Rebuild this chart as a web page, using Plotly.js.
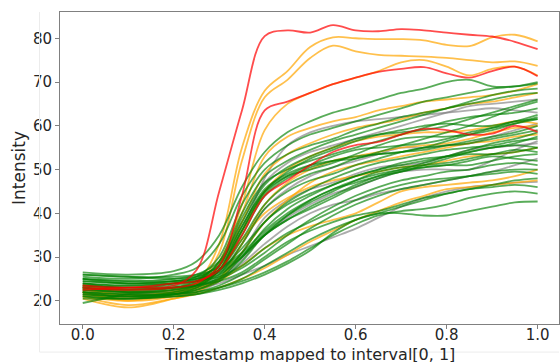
<!DOCTYPE html>
<html>
<head>
<meta charset="utf-8">
<script src="https://cdn.plot.ly/plotly-3.0.1.min.js"></script>
<style>html,body{margin:0;padding:0;background:#fff;}#chart{width:560px;height:362px;}</style>
</head>
<body>
<div id="chart"></div>
<script>
// Shared timestamps (mapped to [0,1])
const T = [0, 0.1, 0.2, 0.25, 0.3, 0.35, 0.4, 0.45, 0.5, 0.55, 0.6, 0.65, 0.7, 0.75, 0.8, 0.85, 0.9, 0.95, 1.0];

// Axis titles
const xTitle = 'Timestamp mapped to interval[0, 1]';
const yTitle = 'Intensity';

// Red series
const red1 = [22.5,23,23.5,27,45,63.5,80.5,81.8,81.3,83,81.8,81.6,82.1,81.8,81.3,80.8,80.4,79.2,77.5];
const red2 = [23,22.5,23,24,28,44,63.5,65.5,67.5,69.5,71,72.3,73,73.4,72,71,72.5,73.5,71.3];
const red3 = [23.5,23,24,24.5,27,35,44,47.5,51,54,55.6,56.3,58,59.3,59,58,58.2,60,58.6];

// Orange series
const orangeA = [22,21,22,24,33,55,68,72.5,78,80.2,80,79.8,79.8,79.5,78.5,78.2,80.2,80.8,79.3];
const orangeB = [21.5,20.5,21.5,23.5,31,52,66.5,70.5,75.5,78.3,77,76.2,76,75.8,75.5,75,74.5,74.7,73.7];
const orangeC = [23,22,22.5,24,29,42,59,65,67.5,69.5,71,72.5,74.5,75,73.5,71.5,73,73.5,71.5];
const orangeD = [22.5,21.5,22,23.5,28,40,53,57.5,59.5,61,62,63.5,64.5,65.5,66,66.5,67,68,69.5];
const orangeE = [21,20,21.5,23,27,38,49,53.5,56,58,59.5,60.5,61.5,63,64,65,65.5,66.5,67.5];
const orangeF = [23.5,22.5,23,24,27,36,45,50,53,55,56.5,57.5,58,58.5,58.5,59,60,61,60.5];
const orangeG = [20.5,18.5,20.5,22,25,33,42,47,50,52,53,54,55,55.5,56,57,58.5,59.5,60];
const orangeH = [22,20,21,22.5,25,31,38,43,47,49.5,51,52,53,54,55,56,56.5,57.5,58];
const orangeI = [21,19,20.5,21.5,23,25,27.5,30.5,33.5,36,38.5,40.5,42.5,44,45.5,46,46.5,47,47.5];
const orangeJ = [22,21,22,23,24.5,28,32,35,37,38.5,40,42.5,45,46,46.5,47,47.5,48.5,50];
const orangeK = [23,21,22,23.5,27,34,40,43.5,46,47.5,48.5,49.5,50.5,51,52,53,53.5,54,55];

// Gray series
const gray1 = [22,21.5,22.5,24,28,38,47,51.5,54,55.5,57,58.5,60,61.5,63,64.5,65,65.5,66];
const gray2 = [23,22.5,23,24,26.5,33,41,45.5,48.5,50.5,52,53.5,55,55,55.5,56,57.5,59,60.5];
const gray3 = [22.5,21.5,22,23,25,29.5,35,39,42,44.5,46,48,49.5,50,50,50,52,54.5,56.5];
const gray4 = [22,21,22,23,24,26,28,30.5,32.5,34.5,36.5,39,41.5,43.5,45,46,46.5,47,47.2];
const gray5 = [23,22,22.5,23.5,25,28.5,33,37,40,42,43,44.5,45.5,46.5,47.5,48.5,49.5,51,52.5];
const gray6 = [23.5,22.5,23,24,27,36,48,55.5,58.5,60,61,61.5,62,62.5,63,63.5,64,63.5,63];
const gray7 = [21.5,20.5,21,22,24.5,31,39,43,45.5,47,49,50.5,51,51.5,53,54.5,55,55.5,56];

// Green series
const green1  = [26.5,26,26.8,29,35,46,54,58.5,61,63,64.4,66,67.5,68.5,70,70.5,69,69,69.7];
const green2  = [25.5,25,26,27.5,33,44,51.5,55.5,58,59.5,61,62.5,64,65.5,66.5,67.5,68.5,69,70];
const green3  = [24,23,24,25.5,30,42,50,53.5,55.5,57,59,60.5,62,63,64,65.5,67,68,68.5];
const green4  = [23,22,23,24.5,29,40,48.5,52,54.5,56.5,58,59.5,61,62.5,64,65,66,67,67.5];
const green5  = [25,24.5,25,26,29,38,46.5,50.5,53,55,57,58,58.5,59,60,61.5,63,64.5,66];
const green6  = [22,21,22,23.5,28,39,47,50,52,53.5,55,56.5,58,59.5,61,62,62.5,63,64];
const green7  = [24.5,24,24.5,25.5,28,36,44.5,48.5,51,53,54.5,55,55.5,56,57,58.5,59.5,60.5,61.5];
const green8  = [21,20.5,21.5,23,27,37,45,48.5,50,51.5,53.5,55.5,57,57.5,57.5,58,59,60.5,62];
const green9  = [23.5,23,23.5,24.5,27,34,42,46.5,49,50.5,52.5,53.5,54,54.5,55.5,56.5,57.5,58.5,60];
const green10 = [19.5,21.5,22.5,23.5,26,33,41,45,47.5,49,51,52.5,54,55,55.5,56,57,58,59];
const green11 = [25,24,24.5,25,27,32,38,42.5,45.5,48,50,51.5,52.5,53.5,54.5,55,55.5,56.5,57];
const green12 = [22.5,22,22,23,25.5,31,38,42,44.5,46.5,48.5,50,51,52,53,54,55,55.5,55];
const green13 = [24,23.5,24,24.5,26,30,35.5,39.5,42.5,45,47.5,49.5,50.5,51,51.5,52.5,53.5,54.5,54];
const green14 = [21.5,21,21.5,22.5,24.5,29,35,38.5,41,43.5,46,48,49.5,50.5,51,51,52,53,53.5];
const green15 = [26,25.5,25.5,26,27.5,31,36,40,43,45.5,47.5,49,50,50.5,51,52,53,52.5,52];
const green16 = [23,22.5,23,23.5,25,27.5,31,35,38.5,41.5,44,46,47.5,48.5,49.5,50,51,51.5,51];
const green17 = [22,21.5,21.5,22,23.5,26,29.5,33,36.5,39.5,42,44,45.5,46.5,47.5,48.5,49.5,50,50];
const green18 = [24.5,24,24,24.5,25.5,28,32,35.5,38,40.5,43,45,46.5,47.5,48,48.5,49,49.5,49];
const green19 = [20.5,20.5,21,21.5,23,25,28,31,34,36.5,38.5,40,41.5,43,44.5,45.5,46.5,47.5,48];
const green20 = [23.5,23,23,23.5,24.5,26.5,30,33.5,36,38,39.5,40.5,42,43.5,44.5,45.5,46,46.5,46];
const green21 = [22,21.5,21.5,22,23,24.5,26.5,29,32,35,37.5,39.5,40.5,41,42,43.5,44.5,45,44.5];
const green22 = [21,20.5,21,21.5,22.5,24,26,28.5,31.5,35.5,38.5,40,40,39.5,39.5,40.5,41.5,42.5,42.7];
const green23 = [25,24.5,24.5,25,26.5,30,35,39.5,43,45.5,47,48.5,49.5,51,52.5,54,55,56,57.5];
const green24 = [23,22.5,23,24,27,35,44,48,50.5,52,53,53.5,54,55,56.5,58,59.5,61,61.5];
const green25 = [24,23.5,24,25,28.5,37,45.5,49,51,52,52.5,54,55.5,57,58.5,60,62,64,65.5];
const green26 = [22.5,22,22.5,23.5,27,36,45,49.5,52.5,54.5,56.5,58,59,60,60.5,60,60,61,62.5];
const green27 = [26,25.5,25,25.5,27,30.5,35,38.5,41.5,44,46.5,48.5,50,51.5,53,54.5,56,57,58.5];
const green28 = [21.5,21,21.5,22.5,25,30,36.5,41,44,46.5,48.5,50,51.5,52.5,53,53.5,53.5,54,55];

const grays = [gray1, gray2, gray3, gray4, gray5, gray6, gray7];
const oranges = [orangeA, orangeB, orangeC, orangeD, orangeE, orangeF, orangeG, orangeH, orangeI, orangeJ, orangeK];
const greens = [green1, green2, green3, green4, green5, green6, green7, green8, green9, green10,
  green11, green12, green13, green14, green15, green16, green17, green18, green19, green20,
  green21, green22, green23, green24, green25, green26, green27, green28];
const reds = [red1, red2, red3];

const groups = [
  {list: grays, color: 'rgba(128,128,128,0.65)'},
  {list: oranges, color: 'rgba(255,165,0,0.7)'},
  {list: greens, color: 'rgba(0,128,0,0.65)'},
  {list: reds, color: 'rgba(255,0,0,0.7)'}
];

const traces = [];
groups.forEach(g => {
  g.list.forEach(vals => {
    traces.push({
      x: T, y: vals, type: 'scatter', mode: 'lines',
      line: {color: g.color, width: 1.8, shape: 'spline', smoothing: 1},
      hoverinfo: 'skip', showlegend: false
    });
  });
});

const axisFont = {family: 'DejaVu Sans', size: 15, color: '#262626'};
const layout = {
  width: 560, height: 362,
  margin: {l: 60, r: 1, t: 12, b: 38},
  paper_bgcolor: '#ffffff', plot_bgcolor: '#ffffff',
  showlegend: false,
  font: {family: 'DejaVu Sans'},
  xaxis: {
    range: [-0.05, 1.047], dtick: 0.2, tick0: 0, tickformat: '.1f',
    showgrid: false, zeroline: false,
    showline: true, mirror: true, linecolor: '#808080', linewidth: 1,
    ticks: 'outside', ticklen: 4, tickcolor: '#808080',
    ticklabelstandoff: -7,
    tickfont: axisFont
  },
  yaxis: {
    range: [14.7, 86], dtick: 10, tick0: 0,
    showgrid: false, zeroline: false,
    showline: true, mirror: true, linecolor: '#808080', linewidth: 1,
    ticks: 'outside', ticklen: 4, tickcolor: '#808080',
    tickfont: axisFont,
    title: {text: yTitle, font: {family: 'DejaVu Sans', size: 17, color: '#262626'}, standoff: 2}
  },
  annotations: [
    {text: xTitle, xref: 'paper', yref: 'paper', x: 0.5, y: -0.064, xanchor: 'center', yanchor: 'top',
     showarrow: false, borderpad: 0, font: {family: 'DejaVu Sans', size: 16, color: '#262626'}}
  ],
  shapes: [
    {type: 'line', xref: 'paper', yref: 'paper', x0: -0.041, x1: -0.041, y0: -0.09, y1: 1.0, line: {color: '#ececec', width: 1}},
    {type: 'line', xref: 'paper', yref: 'paper', x0: -0.041, x1: 1.0, y0: -0.09, y1: -0.09, line: {color: '#ececec', width: 1}}
  ]
};

Plotly.newPlot('chart', traces, layout, {displayModeBar: false, staticPlot: true});
</script>
</body>
</html>
